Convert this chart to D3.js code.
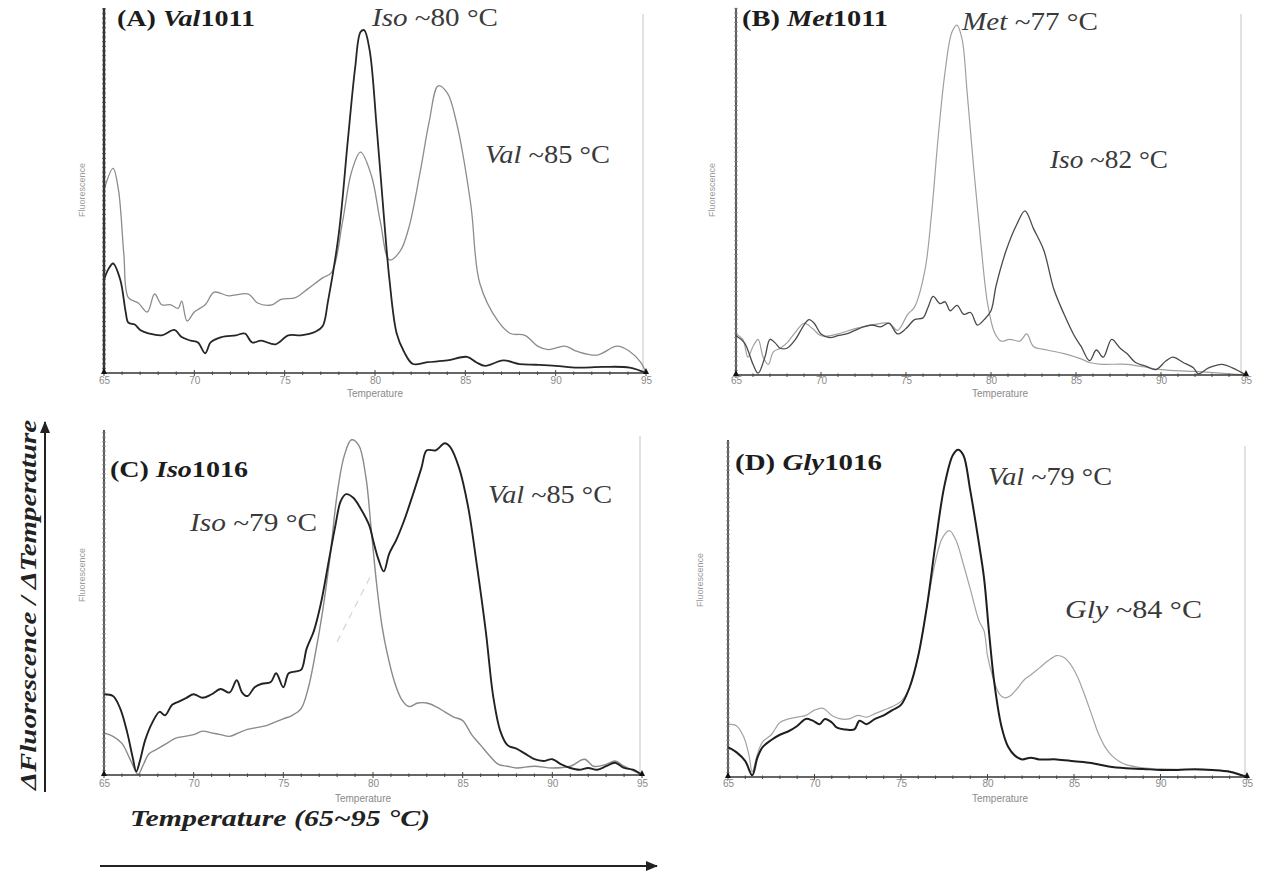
<!DOCTYPE html>
<html><head><meta charset="utf-8">
<script src="https://cdn.jsdelivr.net/npm/d3@7"></script>
<style>body{margin:0;background:#fff}svg{display:block}</style>
</head><body><svg id="c" width="1264" height="876"></svg>
<script>
// ---------- DATA ----------
const xTicks = [65,70,75,80,85,90,95];
const panelTitles = [["(A) ","Val","1011"],["(B) ","Met","1011"],["(C) ","Iso","1016"],["(D) ","Gly","1016"]];
const peakLabels = [
  [["Iso"," ~80 °C"],["Val"," ~85 °C"]],
  [["Met"," ~77 °C"],["Iso"," ~82 °C"]],
  [["Iso"," ~79 °C"],["Val"," ~85 °C"]],
  [["Val"," ~79 °C"],["Gly"," ~84 °C"]]
];
const yAxisTitle = "ΔFluorescence / ΔTemperature";
const xAxisTitle = "Temperature (65~95 °C)";

const aDark = [[65,26],[65.25,29],[65.5,30.5],[65.9,26],[66.2,17],[66.35,14],[66.7,13.5],[67,12],[67.5,11],[68.2,10.5],[68.9,12],[69.3,10],[69.8,9],[70.2,8.5],[70.6,5.5],[70.9,8.5],[71.5,10],[72.3,10.5],[72.8,11],[73.2,8.5],[73.7,9],[74.5,8],[75.2,10.5],[75.9,10.5],[76.7,11.5],[77.1,13],[77.4,20],[78,39],[78.5,65],[78.9,85],[79.2,95],[79.4,95.5],[79.7,90],[80.1,68],[80.55,40],[80.8,26],[81.2,11],[81.6,6],[82.1,2.5],[82.9,3],[84,3.5],[85.1,4.5],[85.6,3],[86.1,2],[87.1,3.5],[88,2.5],[88.9,2.3],[90,2],[91.2,1.5],[92.6,1.7],[94.1,1.5],[95,0]];
const aLight = [[65,51],[65.5,57],[65.8,51],[66.1,33],[66.35,21],[66.9,19.5],[67.4,17],[67.8,22],[68.2,19],[68.7,19],[69.1,18],[69.3,20],[69.6,14.5],[70,17],[70.6,19],[71.1,22.5],[71.9,21.5],[73,22],[73.5,19.5],[74.3,19],[74.8,20.5],[75.6,21],[76.3,23.5],[77.1,26.5],[77.6,28],[78.2,42],[78.7,56],[79.2,61.5],[79.8,55],[80.3,42],[80.8,31.5],[81.4,34],[81.9,41],[82.5,56],[83,70],[83.5,80],[84,78],[84.5,70],[85.3,47],[85.8,25],[86.8,14.5],[87.5,11],[88.3,10.5],[89,7.5],[89.6,6.5],[90.5,7.5],[91.2,6],[92.3,5],[93.4,7.5],[94.1,6],[94.7,3],[95,0]];

const bDark = [[65,11],[65.5,9],[66,3],[66.3,0.5],[66.7,5],[67,10],[67.3,9],[67.6,7.5],[68,7.5],[68.5,10],[69,14],[69.3,15.5],[69.6,14.5],[70,11.5],[70.5,10.5],[71,11],[71.5,11.5],[72,12.5],[72.5,13.5],[73,14],[73.5,13.5],[74,14.5],[74.5,11.5],[75,13],[75.5,15.5],[76,16],[76.3,19],[76.6,22],[77,20],[77.3,20.5],[77.6,18],[78,19.5],[78.4,17],[78.8,17.5],[79.2,14],[79.6,15.5],[80,18],[80.3,25],[80.9,35],[81.5,42],[82,46],[82.5,41],[83.1,35],[83.7,24],[84.3,17],[84.9,11],[85.3,8],[85.8,4],[86.2,7],[86.6,5],[87.1,10],[87.6,7.5],[88,6],[88.5,3.5],[89.1,2.5],[89.7,1.5],[90.3,4],[90.7,5],[91.3,3.5],[91.9,2],[92.2,0.3],[92.8,2],[93.6,3],[94.2,2],[95,0]];
const bLight = [[65,11.5],[65.4,10],[65.7,5],[66,8],[66.3,10],[66.6,5],[66.9,3],[67.2,6.5],[67.6,7.5],[68,9],[68.5,12],[69,14.5],[69.5,13],[70,11],[71,11.5],[72,13],[73,14],[74,14.5],[74.5,12.5],[75.1,17],[75.5,19],[76.1,29],[76.5,45],[76.9,67],[77.3,85],[77.7,96],[78,98],[78.3,94],[78.6,79],[79,57],[79.4,37],[79.8,20],[80.2,12],[80.6,9.5],[81.1,10],[81.7,9.5],[82.1,11.5],[82.5,8],[83.3,7],[84.3,6],[85.3,4.5],[85.8,3.5],[86.5,3],[88,3],[90,1.5],[92,1],[95,0]];

const cDark = [[65,23],[65.5,22.5],[65.9,19],[66.3,12],[66.6,5],[66.8,1],[67,4],[67.3,10],[67.7,15],[68.1,18],[68.4,17],[68.8,20],[69.2,21],[69.6,22],[70,23],[70.5,22],[71,23],[71.5,24.5],[72,23.5],[72.4,27],[72.7,23.5],[73,22.5],[73.4,25],[73.8,26],[74.3,26.5],[74.6,29],[75,25],[75.3,29],[75.7,29.5],[76,30],[76.3,36],[76.7,41],[77.1,49],[77.5,60],[77.9,71],[78.2,78],[78.5,80],[78.9,79],[79.3,76],[79.8,71],[80,67],[80.3,61.5],[80.6,58],[80.9,63],[81.3,67],[81.7,72],[82.2,79.5],[82.7,87.5],[83,92.5],[83.5,92.5],[84,94.5],[84.3,93.5],[84.8,87.5],[85.3,76.5],[85.8,59.5],[86.3,40.5],[86.7,22.5],[87.1,12.5],[87.5,8.5],[88,7.5],[88.5,6],[89,4.5],[89.5,4],[90,4.5],[90.5,3],[91,2],[91.5,1.5],[92,2],[92.5,1.5],[93,2.5],[93.5,3.5],[94,2],[94.5,1.5],[95,0]];
const cLight = [[65,12],[65.5,11],[66,9],[66.5,4],[66.9,0.2],[67.2,3],[67.5,6],[68,7.5],[68.5,9],[69,10.5],[69.5,11],[70,11.5],[70.5,12.5],[71,12],[71.5,11.5],[72,11],[72.5,12],[73,13],[73.5,13.5],[74,14],[74.5,15],[75,16],[75.5,17],[76,19],[76.4,25],[76.8,35],[77.2,47],[77.6,62],[78,80],[78.4,91],[78.8,95.5],[79.2,94],[79.6,85],[79.9,70],[80.2,54.5],[80.5,42.5],[80.8,34.5],[81.2,26.5],[81.6,21.5],[82,19.5],[82.5,20.5],[83,20.5],[83.5,19.5],[84,18],[84.5,16.5],[85,15.5],[85.5,11.5],[86,8.5],[86.5,5.5],[87,3],[87.5,2.5],[88,2],[89,2.5],[90,2],[91,2.5],[91.8,4.5],[92.3,2.5],[93,3],[93.5,4],[94,2.5],[95,0]];
const cFaint = [[78.0,38],[78.6,44],[79.2,50],[79.9,57]];

const dDark = [[65,8.5],[65.5,7],[66,4.5],[66.4,0.5],[66.7,5.5],[67,8.5],[67.5,10.5],[68,12],[68.5,13],[69,14.5],[69.5,16.5],[69.9,16],[70.3,15],[70.6,16.5],[71,15.5],[71.3,14],[71.8,13.5],[72.3,13.5],[72.6,16],[73,15],[73.5,16.5],[74,17.5],[74.5,19],[75,20.5],[75.5,25.5],[76,34.5],[76.5,48.5],[77,66.5],[77.5,82.5],[78,91.5],[78.3,93],[78.6,91.5],[79,81.5],[79.5,66.5],[79.8,56.5],[80.1,40.5],[80.4,26.5],[80.8,14.5],[81.2,8.5],[81.6,6],[82,5],[82.5,5.5],[83,5],[84,5],[85,4.5],[86,4],[87,3],[88,2.5],[89,2.3],[90,2],[91,2],[92,2.2],[93,2],[94,1.5],[95,0]];
const dLight = [[65,15],[65.5,14.5],[65.9,11.5],[66.2,6.5],[66.4,1.5],[66.7,6.5],[67,10],[67.5,12],[68,15.5],[68.5,16.5],[69,17],[69.5,17.5],[70,19],[70.5,19.5],[71,17.5],[71.5,16.5],[72,16.5],[72.5,17.5],[73,17],[73.5,18],[74,19],[74.5,20],[75,21.5],[75.5,25.5],[76,34.5],[76.5,48.5],[77,61.5],[77.4,68],[77.8,70],[78.2,67],[78.6,60.5],[79,53.5],[79.5,44.5],[79.8,41.5],[80,34.5],[80.3,28.5],[80.7,23.5],[81,22.5],[81.3,23],[81.7,25],[82.1,27.5],[82.5,29],[83,31],[83.5,33],[84,34.5],[84.4,34],[84.8,32],[85.2,28.5],[85.6,23.5],[86,18],[86.4,12.5],[86.8,8.5],[87.2,6],[87.6,4.5],[88,3.5],[89,2.6],[90,2.3],[92,2.1],[94,1.6],[95,0]];

// ---------- LAYOUT ----------
const panels = [
  {x0:104,x1:646,yb:373,yt:14,axTop:8,right:643,fl:[82,190],tl:[375,397],tickY:386,
   title:[117,26,138],labels:[[372,26,126],[485,163,125]],
   series:[{d:aLight,c:"#8c8c8c",w:1.3},{d:aDark,c:"#262626",w:1.8}]},
  {x0:736,x1:1246,yb:375,yt:18,axTop:8,right:1241,fl:[712,190],tl:[1000,397],tickY:386,
   title:[742,26,146],labels:[[962,30,136],[1050,168,118]],
   series:[{d:bLight,c:"#a0a0a0",w:1.2},{d:bDark,c:"#4a4a4a",w:1.3}]},
  {x0:104,x1:642,yb:775,yt:424,axTop:430,right:640,fl:[82,575],tl:[363,802],tickY:789,
   title:[110,477,138],labels:[[190,531,127],[488,503,124]],
   series:[{d:cFaint,c:"#d4d4d4",w:1.2,dash:"7,6"},{d:cLight,c:"#8a8a8a",w:1.4},{d:cDark,c:"#222",w:1.9}]},
  {x0:728,x1:1247,yb:777,yt:425,axTop:440,right:1245,fl:[700,580],tl:[1000,802],tickY:789,
   title:[735,470,147],labels:[[988,485,124],[1065,618,137]],
   series:[{d:dLight,c:"#a3a3a3",w:1.2},{d:dDark,c:"#1e1e1e",w:2}]}
];

const svg = d3.select("#c");
const serif = "'Liberation Serif','Times New Roman',serif";
const sans = "'Liberation Sans',Arial,sans-serif";

panels.forEach((p,i)=>{
  const x = d3.scaleLinear().domain([65,95]).range([p.x0,p.x1]);
  const y = d3.scaleLinear().domain([0,100]).range([p.yb,p.yt]);
  const g = svg.append("g");

  // right border
  g.append("line").attr("x1",p.right).attr("x2",p.right).attr("y1",p.axTop+6).attr("y2",p.yb)
    .attr("stroke","#c4c4c4").attr("stroke-width",1);

  // series
  const line = d3.line().x(d=>x(d[0])).y(d=>y(d[1])).curve(d3.curveCatmullRom.alpha(0.5));
  p.series.forEach(s=>{
    g.append("path").attr("d",line(s.d)).attr("fill","none").attr("stroke",s.c)
      .attr("stroke-width",s.w).attr("stroke-linejoin","round")
      .attr("stroke-dasharray",s.dash||null);
  });

  // x axis line + minor ticks
  g.append("line").attr("x1",p.x0).attr("x2",p.x1).attr("y1",p.yb).attr("y2",p.yb)
    .attr("stroke","#333").attr("stroke-width",1.6);
  g.selectAll(".mt").data(d3.range(65,95.01,1)).enter().append("line")
    .attr("x1",d=>x(d)).attr("x2",d=>x(d))
    .attr("y1",d=>p.yb-(d%5===0?3:1.5)).attr("y2",d=>p.yb+(d%5===0?3:2))
    .attr("stroke","#444").attr("stroke-width",1);
  // x axis labels
  const ax = g.append("g").attr("transform",`translate(0,${p.tickY-9})`)
    .call(d3.axisBottom(x).tickValues(xTicks).tickSize(0).tickPadding(0).tickFormat(d3.format("d")));
  ax.select(".domain").remove();
  ax.selectAll("text").attr("font-family",sans).attr("font-size",10).attr("fill","#8a8a8a");

  // y axis ruler
  g.append("line").attr("x1",p.x0).attr("x2",p.x0).attr("y1",p.axTop).attr("y2",p.yb)
    .attr("stroke","#333").attr("stroke-width",i===0?2.4:1.6);
  const yt = d3.range(0,(p.yb-p.axTop)/(p.yb-p.yt)*100,1.3);
  g.selectAll(".yt").data(yt).enter().append("line")
    .attr("x1",p.x0-2).attr("x2",p.x0+2).attr("y1",d=>y(d)).attr("y2",d=>y(d))
    .attr("stroke",i===0?"#444":"#888").attr("stroke-width",0.8);

  // corner markers
  [p.x0,p.x1].forEach(cx=>{
    g.append("path").attr("d",`M${cx-3},${p.yb+1}L${cx+3},${p.yb+1}L${cx},${p.yb-5}Z`).attr("fill","#111");
  });

  // small axis titles
  g.append("text").attr("x",p.tl[0]).attr("y",p.tl[1]).attr("text-anchor","middle")
    .attr("font-family",sans).attr("font-size",10).attr("fill","#8a8a8a").text("Temperature");
  g.append("text").attr("transform",`translate(${p.fl[0]+3},${p.fl[1]}) rotate(-90)`).attr("text-anchor","middle")
    .attr("font-family",sans).attr("font-size",9).attr("fill","#9a9a9a").text("Fluorescence");

  // panel title
  const t = panelTitles[i];
  const tt = g.append("text").attr("x",p.title[0]).attr("y",p.title[1])
    .attr("font-family",serif).attr("font-size",24).attr("font-weight","bold").attr("fill","#1c1c1c")
    .attr("textLength",p.title[2]).attr("lengthAdjust","spacingAndGlyphs");
  tt.append("tspan").text(t[0]);
  tt.append("tspan").attr("font-style","italic").text(t[1]);
  tt.append("tspan").text(t[2]);

  // peak labels
  peakLabels[i].forEach((l,k)=>{
    const pos = p.labels[k];
    const lt = g.append("text").attr("x",pos[0]).attr("y",pos[1])
      .attr("font-family",serif).attr("font-size",25).attr("fill","#3a3a3a")
      .attr("textLength",pos[2]).attr("lengthAdjust","spacingAndGlyphs");
    lt.append("tspan").attr("font-style","italic").text(l[0]);
    lt.append("tspan").text(l[1]);
  });
});

// big axis titles and arrows
const defs = svg.append("defs");
defs.append("marker").attr("id","ah").attr("viewBox","0 0 12 10").attr("refX",11).attr("refY",5)
  .attr("markerWidth",12).attr("markerHeight",10).attr("markerUnits","userSpaceOnUse").attr("orient","auto")
  .append("path").attr("d","M0,0L12,5L0,10Z").attr("fill","#222");

svg.append("line").attr("x1",45).attr("x2",45).attr("y1",792).attr("y2",422)
  .attr("stroke","#222").attr("stroke-width",2).attr("marker-end","url(#ah)");
svg.append("text").attr("transform","translate(36,605) rotate(-90)").attr("text-anchor","middle")
  .attr("font-family",serif).attr("font-size",24).attr("font-style","italic").attr("font-weight","bold")
  .attr("fill","#222").attr("textLength",370).attr("lengthAdjust","spacingAndGlyphs").text(yAxisTitle);

svg.append("line").attr("x1",100).attr("x2",657).attr("y1",866).attr("y2",866)
  .attr("stroke","#222").attr("stroke-width",2).attr("marker-end","url(#ah)");
svg.append("text").attr("x",130).attr("y",826)
  .attr("font-family",serif).attr("font-size",24).attr("font-style","italic").attr("font-weight","bold")
  .attr("fill","#222").attr("textLength",300).attr("lengthAdjust","spacingAndGlyphs").text(xAxisTitle);
</script>
</body></html>
